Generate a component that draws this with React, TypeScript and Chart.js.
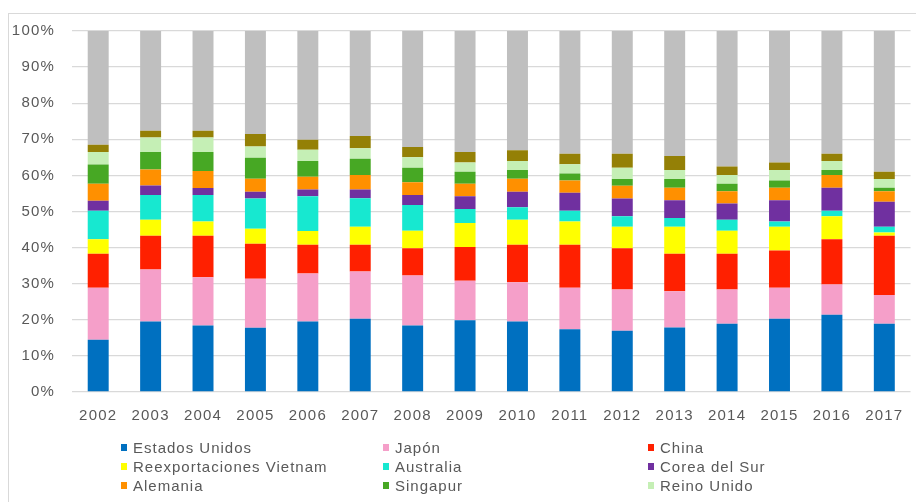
import React, { useEffect, useRef } from "react";
import { Chart, registerables } from "chart.js";

Chart.register(...registerables);

const years = ["2002","2003","2004","2005","2006","2007","2008","2009","2010","2011","2012","2013","2014","2015","2016","2017"];

const estadosUnidos = [14.5,19.5,18.4,17.8,19.5,20.3,18.4,19.9,19.5,17.4,17.0,17.9,18.9,20.3,21.4,18.9];
const japon =         [14.4,14.4,13.4,13.6,13.3,13.1,13.9,10.9,10.9,11.5,11.4,10.0,9.5,8.6,8.4,8.0];
const china =         [9.4,9.4,11.5,9.7,8.0,7.4,7.5,9.4,10.4,11.9,11.4,10.4,9.9,10.3,12.5,16.4];
const vietnam =       [4.0,4.4,3.9,4.1,3.8,5.0,4.9,6.6,6.9,6.4,6.0,7.5,6.4,6.6,6.4,0.9];
const australia =     [7.9,6.9,7.4,8.4,9.6,7.9,7.1,3.9,3.5,3.0,2.9,2.4,3.0,1.4,1.5,1.6];
const corea =         [2.8,2.6,1.9,1.9,1.9,2.4,2.8,3.5,4.3,5.0,4.9,4.9,4.5,5.9,6.4,6.9];
const alemania =      [4.7,4.4,4.7,3.6,3.5,4.0,3.5,3.5,3.6,3.4,3.5,3.5,3.4,3.5,3.5,2.9];
const singapur =      [5.3,4.9,5.3,5.8,4.4,4.5,4.0,3.3,2.4,1.9,1.9,2.4,2.1,2.0,1.4,1.0];
const reinoUnido =    [3.5,4.0,4.0,3.1,3.1,2.9,2.9,2.6,2.5,2.6,3.1,2.5,2.4,2.9,2.5,2.4];
const tailandia =     [2.0,1.9,1.9,3.5,2.8,3.4,2.9,2.9,3.0,2.9,3.9,3.9,2.4,2.1,2.0,2.0];
const resto =         [31.5,27.6,27.6,28.5,30.1,29.1,32.1,33.5,33.0,34.0,34.0,34.6,37.5,36.4,34.0,39.0];

const yTicks = [0,10,20,30,40,50,60,70,80,90,100];

const series = [
  { label: "Estados Unidos", data: estadosUnidos, color: "#0070C0", legend: true },
  { label: "Japón", data: japon, color: "#F59FC9", legend: true },
  { label: "China", data: china, color: "#FF2000", legend: true },
  { label: "Reexportaciones Vietnam", data: vietnam, color: "#FFFF00", legend: true },
  { label: "Australia", data: australia, color: "#17E8D0", legend: true },
  { label: "Corea del Sur", data: corea, color: "#7030A0", legend: true },
  { label: "Alemania", data: alemania, color: "#FF9000", legend: true },
  { label: "Singapur", data: singapur, color: "#47A824", legend: true },
  { label: "Reino Unido", data: reinoUnido, color: "#C5EFB5", legend: true },
  { label: "Tailandia", data: tailandia, color: "#948006", legend: false },
  { label: "Resto", data: resto, color: "#BFBFBF", legend: false },
];

const FONT = "'Liberation Sans', Arial, sans-serif";
const TEXT = "#595959";

export default function App() {
  const ref = useRef<HTMLCanvasElement | null>(null);

  useEffect(() => {
    document.body.style.margin = "0";
    const canvas = ref.current;
    if (!canvas) return;
    const spacing = {
      id: "spacing",
      beforeDraw(chart: any) {
        try { (chart.ctx as any).letterSpacing = "1.2px"; } catch (e) {}
      },
    };
    const chart = new Chart(canvas, {
      type: "bar",
      data: {
        labels: years,
        datasets: series.map((s) => ({
          label: s.label,
          data: s.data,
          backgroundColor: s.color,
          borderWidth: 0,
          categoryPercentage: 1,
          barPercentage: 0.4,
        })),
      },
      options: {
        animation: false,
        responsive: false,
        maintainAspectRatio: false,
        layout: { padding: { top: 31, right: 0, left: 0, bottom: 70 } },
        plugins: { legend: { display: false }, tooltip: { enabled: false } },
        scales: {
          x: {
            stacked: true,
            grid: { display: false, drawTicks: false },
            border: { display: false },
            ticks: { color: TEXT, font: { family: FONT, size: 15 }, padding: 15, maxRotation: 0 },
            afterFit(scale: any) { scale.height = 40; },
          },
          y: {
            stacked: true,
            min: 0,
            max: 100,
            afterBuildTicks(scale: any) { scale.ticks = yTicks.map((v) => ({ value: v })); },
            grid: { color: "#D9D9D9", lineWidth: 1.3, drawTicks: false },
            border: { display: false },
            ticks: {
              color: TEXT,
              font: { family: FONT, size: 15 },
              padding: 17,
              callback: (v: any) => v + "%",
            },
            afterFit(scale: any) { scale.width = 72; },
          },
        },
      },
      plugins: [spacing],
    });
    return () => chart.destroy();
  }, []);

  const cols = [121, 383, 648];
  const rowsTop = [439, 458, 477];
  const legendItems = series.filter((s) => s.legend);

  return (
    <div style={{ position: "relative", width: 916, height: 502, overflow: "hidden", background: "#fff" }}>
      <div style={{ position: "absolute", left: 8, top: 13, width: 1000, height: 600, border: "1px solid #D9D9D9", boxSizing: "border-box" }} />
      <canvas ref={ref} width={916} height={502} style={{ position: "absolute", left: 0, top: 0, width: 916, height: 502 }} />
      {legendItems.map((s, i) => {
        const c = i % 3;
        const r = Math.floor(i / 3);
        return (
          <div key={s.label} style={{ position: "absolute", left: cols[c], top: rowsTop[r], height: 17, display: "flex", alignItems: "center", whiteSpace: "nowrap" }}>
            <span style={{ display: "inline-block", width: 6, height: 7, background: s.color, marginRight: 6 }} />
            <span style={{ fontFamily: FONT, fontSize: 15, lineHeight: "17px", color: TEXT, letterSpacing: "1px" }}>{s.label}</span>
          </div>
        );
      })}
    </div>
  );
}
